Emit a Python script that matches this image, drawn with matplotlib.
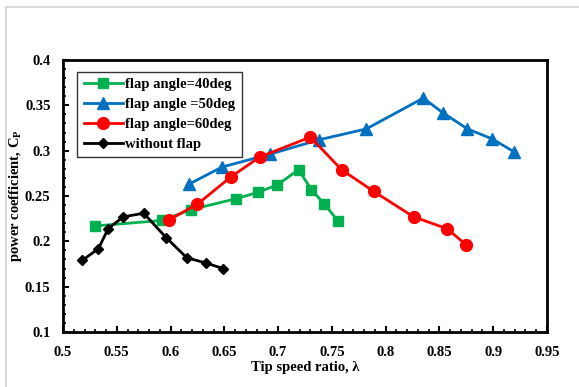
import matplotlib
matplotlib.use("Agg")
import matplotlib.pyplot as plt
from matplotlib.lines import Line2D
from matplotlib.ticker import MultipleLocator, FormatStrFormatter

# Данные
tsr_40 = [0.530, 0.592, 0.619, 0.661, 0.681, 0.699, 0.719, 0.731, 0.743, 0.756]
cp_40 = [0.217, 0.223, 0.235, 0.247, 0.254, 0.262, 0.279, 0.257, 0.241, 0.222]

tsr_50 = [0.617, 0.648, 0.692, 0.738, 0.782, 0.835, 0.853, 0.876, 0.899, 0.919]
cp_50 = [0.263, 0.282, 0.296, 0.312, 0.324, 0.358, 0.342, 0.324, 0.313, 0.299]

tsr_60 = [0.599, 0.625, 0.656, 0.683, 0.730, 0.759, 0.789, 0.826, 0.857, 0.875]
cp_60 = [0.224, 0.241, 0.271, 0.293, 0.315, 0.279, 0.255, 0.227, 0.214, 0.196]

tsr_0 = [0.518, 0.533, 0.542, 0.556, 0.575, 0.596, 0.615, 0.633, 0.649]
cp_0 = [0.179, 0.192, 0.214, 0.227, 0.231, 0.204, 0.182, 0.176, 0.170]

labels = ["flap angle=40deg", "flap angle =50deg", "flap angle=60deg", "without flap"]

plt.rcParams['font.family'] = ['Liberation Serif', 'DejaVu Serif']
plt.rcParams['font.weight'] = 'bold'

fig = plt.figure(figsize=(5.79, 3.87), dpi=100)
ax = fig.add_axes([63 / 579, 1 - 332 / 387, 484 / 579, 272 / 387])

ax.plot(tsr_40, cp_40, color="#00B050", lw=2, marker="s", ms=7.5, label=labels[0])
ax.plot(tsr_50, cp_50, color="#0070C0", lw=2, marker="^", ms=8.5, label=labels[1])
ax.plot(tsr_60, cp_60, color="#FF0000", lw=2, marker="o", ms=8.5, label=labels[2])
ax.plot(tsr_0, cp_0, color="black", lw=2, marker="D", ms=5.5, label=labels[3])

ax.set_xlim(0.5, 0.95)
ax.set_ylim(0.1, 0.4)
ax.xaxis.set_major_locator(MultipleLocator(0.05))
ax.xaxis.set_minor_locator(MultipleLocator(0.01))
ax.yaxis.set_major_locator(MultipleLocator(0.05))
ax.yaxis.set_minor_locator(MultipleLocator(0.01))
ax.xaxis.set_major_formatter(FormatStrFormatter('%g'))
ax.yaxis.set_major_formatter(FormatStrFormatter('%g'))
ax.tick_params(which='major', direction='in', length=4, width=1.5, labelsize=10.5)
ax.tick_params(axis='x', which='major', pad=10)
ax.tick_params(axis='y', which='major', pad=9)
ax.tick_params(which='minor', direction='in', length=2.5, width=1.2)
for lab in ax.get_xticklabels() + ax.get_yticklabels():
    lab.set_fontweight('bold')
for sp in ax.spines.values():
    sp.set_linewidth(2)

ax.set_xlabel("Tip speed ratio, λ", fontsize=10.5, fontweight='bold')
ax.set_ylabel("power coefficient, C$_{\\mathregular{P}}$", fontsize=10.5, fontweight='bold')
ax.xaxis.set_label_coords(0.5, -0.105)
ax.yaxis.set_label_coords(-0.08, 0.5)

leg = ax.legend(loc='upper left', bbox_to_anchor=(0.029, 0.957), borderaxespad=0,
                prop={'weight': 'bold', 'size': 10.5}, frameon=True, fancybox=False,
                edgecolor='black', handlelength=2.7, handletextpad=0.15,
                labelspacing=0.45, borderpad=0.45)
leg.get_frame().set_linewidth(1)

# светло-серая рамка области диаграммы (как в Excel)
fig.add_artist(Line2D([6 / 579, 1], [1 - 7 / 387, 1 - 7 / 387], color="#d9d9d9", lw=1.5))
fig.add_artist(Line2D([6 / 579, 6 / 579], [0, 1 - 7 / 387], color="#d9d9d9", lw=1.5))

fig.savefig("out.png", dpi=100)
